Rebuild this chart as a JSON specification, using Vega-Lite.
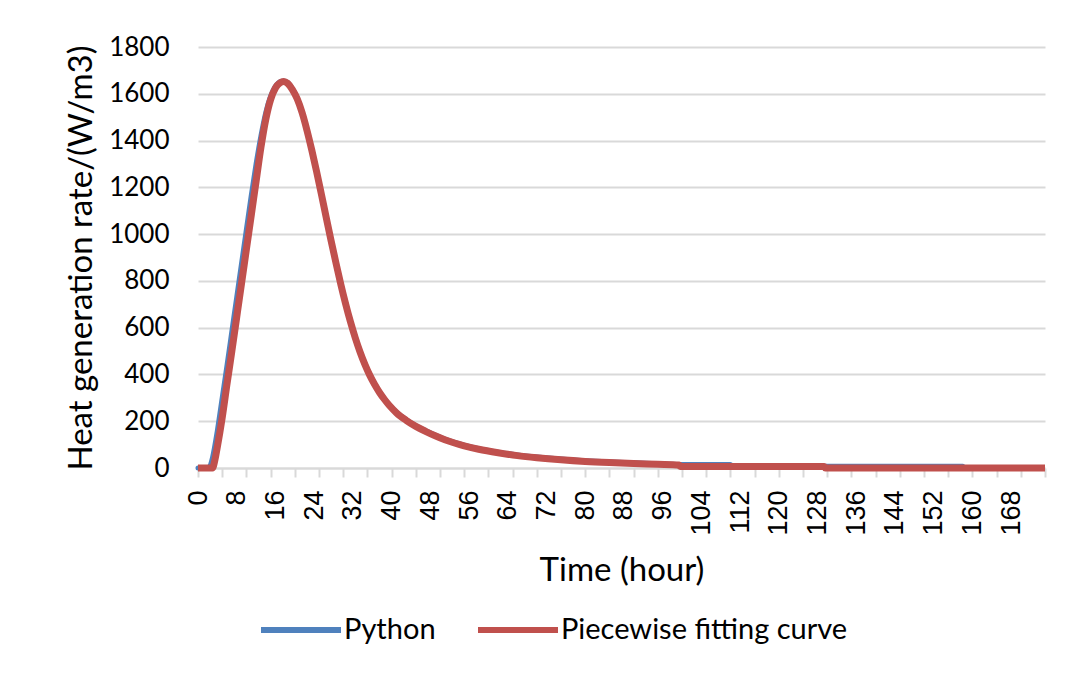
{
  "$schema": "https://vega.github.io/schema/vega-lite/v6.json",
  "width": 847,
  "height": 421,
  "autosize": {"type": "none"},
  "padding": {"left": 198, "top": 47, "right": 28, "bottom": 206},
  "background": "white",
  "config": {"view": {"stroke": null}, "font": "Lato"},
  "datasets": {
    "python": [
      {"t":0,"v":0},{"t":1,"v":0},{"t":2,"v":0},{"t":2.5,"v":10},{"t":3,"v":45},{"t":4,"v":160},{"t":5,"v":300},{"t":6,"v":440},{"t":7,"v":585},{"t":8,"v":730},{"t":9,"v":875},{"t":10,"v":1020},{"t":11,"v":1165},{"t":12,"v":1300},{"t":13,"v":1420},{"t":14,"v":1520},{"t":15,"v":1590},{"t":16,"v":1633},{"t":17,"v":1652},{"t":17.7,"v":1655},{"t":18.5,"v":1648},{"t":19.5,"v":1621},{"t":20.5,"v":1582},{"t":21.5,"v":1524},{"t":22.5,"v":1449},{"t":23.5,"v":1364},{"t":24.5,"v":1272},{"t":25.5,"v":1174},{"t":26.5,"v":1074},{"t":27.5,"v":976},{"t":28.5,"v":881},{"t":29.5,"v":790},{"t":30.5,"v":706},{"t":31.5,"v":629},{"t":32.5,"v":560},{"t":33.5,"v":499},{"t":34.5,"v":446},{"t":35.5,"v":400},{"t":36.5,"v":360},{"t":37.5,"v":326},{"t":38.5,"v":297},{"t":39.5,"v":271},{"t":41,"v":239},{"t":43,"v":207},{"t":45,"v":181},{"t":47,"v":160},{"t":49,"v":141},{"t":51,"v":124},{"t":53,"v":110},{"t":55,"v":98},{"t":58,"v":83},{"t":62,"v":68},{"t":66,"v":56},{"t":70,"v":47},{"t":75,"v":38},{"t":80,"v":31},{"t":85,"v":26},{"t":90,"v":22},{"t":95,"v":18},{"t":100,"v":15},{"t":105,"v":15},{"t":110,"v":15},{"t":110.5,"v":7},{"t":128.5,"v":7},{"t":129,"v":8},{"t":158,"v":8}
    ],
    "fit": [
      {"t":0,"v":0},{"t":1,"v":0},{"t":2,"v":0},{"t":3,"v":0},{"t":3.5,"v":35},{"t":4,"v":90},{"t":4.5,"v":150},{"t":5,"v":215},{"t":6,"v":360},{"t":7,"v":500},{"t":8,"v":645},{"t":9,"v":790},{"t":10,"v":935},{"t":11,"v":1080},{"t":12,"v":1225},{"t":13,"v":1370},{"t":14,"v":1490},{"t":15,"v":1575},{"t":16,"v":1625},{"t":17,"v":1648},{"t":17.7,"v":1653},{"t":18.5,"v":1645},{"t":19.5,"v":1618},{"t":20.5,"v":1578},{"t":21.5,"v":1520},{"t":22.5,"v":1445},{"t":23.5,"v":1360},{"t":24.5,"v":1268},{"t":25.5,"v":1170},{"t":26.5,"v":1070},{"t":27.5,"v":972},{"t":28.5,"v":877},{"t":29.5,"v":786},{"t":30.5,"v":702},{"t":31.5,"v":625},{"t":32.5,"v":556},{"t":33.5,"v":495},{"t":34.5,"v":442},{"t":35.5,"v":396},{"t":36.5,"v":357},{"t":37.5,"v":323},{"t":38.5,"v":294},{"t":39.5,"v":268},{"t":41,"v":236},{"t":43,"v":204},{"t":45,"v":178},{"t":47,"v":157},{"t":49,"v":138},{"t":51,"v":121},{"t":53,"v":107},{"t":55,"v":95},{"t":58,"v":80},{"t":62,"v":65},{"t":66,"v":53},{"t":70,"v":44},{"t":75,"v":35},{"t":80,"v":28},{"t":85,"v":23},{"t":90,"v":19},{"t":95,"v":16},{"t":99.4,"v":13},{"t":99.6,"v":6},{"t":129.4,"v":6},{"t":129.6,"v":0},{"t":175,"v":0}
    ]
  },
  "encoding": {
    "y": {
      "field": "v",
      "type": "quantitative",
      "scale": {"domain": [0, 1800], "nice": false},
      "axis": {
        "values": [0, 200, 400, 600, 800, 1000, 1200, 1400, 1600, 1800],
        "format": "d",
        "title": "Heat generation rate/(W/m3)",
        "domain": false,
        "ticks": false,
        "gridColor": "#d9d9d9",
        "gridWidth": 2,
        "labelFont": "Lato",
        "labelFontSize": 26,
        "labelPadding": 29,
        "labelColor": "#000000",
        "titleFont": "Lato",
        "titleFontSize": 33,
        "titleFontWeight": "normal",
        "titleColor": "#000000",
        "titlePadding": 10
      }
    }
  },
  "layer": [
    {
      "data": {"name": "python"},
      "transform": [{"calculate": "'Python'", "as": "series"}],
      "mark": {"type": "line", "interpolate": "monotone", "strokeWidth": 5, "strokeJoin": "round", "strokeCap": "round"},
      "encoding": {
        "x": {
          "field": "t",
          "type": "quantitative",
          "scale": {"domain": [0, 175], "nice": false, "zero": false},
          "axis": {
            "orient": "bottom",
            "values": [0, 8, 16, 24, 32, 40, 48, 56, 64, 72, 80, 88, 96, 104, 112, 120, 128, 136, 144, 152, 160, 168],
            "title": "Time (hour)",
            "ticks": false,
            "grid": false,
            "domain": true,
            "domainColor": "#d9d9d9",
            "domainWidth": 2,
            "labelAngle": -90,
            "labelAlign": "right",
            "labelBaseline": "middle",
            "labelFont": "Liberation Sans",
            "labelFontSize": 27,
            "labelPadding": 22,
            "labelColor": "#000000",
            "labelOverlap": false,
            "labelFlush": false,
            "titleFont": "Lato",
            "titleFontSize": 33,
            "titleFontWeight": "normal",
            "titleColor": "#000000",
            "titlePadding": 19
          }
        },
        "color": {
          "field": "series",
          "type": "nominal",
          "scale": {"domain": ["Python", "Piecewise fitting curve"], "range": ["#4f81bd", "#c0504d"]},
          "legend": {
            "title": null,
            "orient": "none",
            "direction": "horizontal",
            "legendX": 60,
            "legendY": 540,
            "symbolType": "stroke",
            "symbolSize": 6400,
            "symbolStrokeWidth": 6,
            "labelFont": "Lato",
            "labelFontSize": 29,
            "labelColor": "#000000",
            "labelOffset": 0,
            "columnPadding": 30,
            "labelLimit": 500
          }
        }
      }
    },
    {
      "data": {"name": "fit"},
      "transform": [{"calculate": "'Piecewise fitting curve'", "as": "series"}],
      "mark": {"type": "line", "interpolate": "monotone", "strokeWidth": 7, "strokeJoin": "round"},
      "encoding": {
        "x": {
          "field": "t",
          "type": "quantitative",
          "scale": {"domain": [0, 175], "nice": false, "zero": false},
          "axis": {
            "orient": "bottom",
            "values": [0, 5, 10, 15, 20, 25, 30, 35, 40, 45, 50, 55, 60, 65, 70, 75, 80, 85, 90, 95, 100, 105, 110, 115, 120, 125, 130, 135, 140, 145, 150, 155, 160, 165, 170, 175],
            "title": null,
            "labels": false,
            "grid": false,
            "domain": false,
            "ticks": true,
            "tickColor": "#d9d9d9",
            "tickWidth": 2,
            "tickSize": 9
          }
        },
        "color": {"field": "series", "type": "nominal"}
      }
    }
  ],
  "resolve": {"axis": {"x": "independent"}}
}
